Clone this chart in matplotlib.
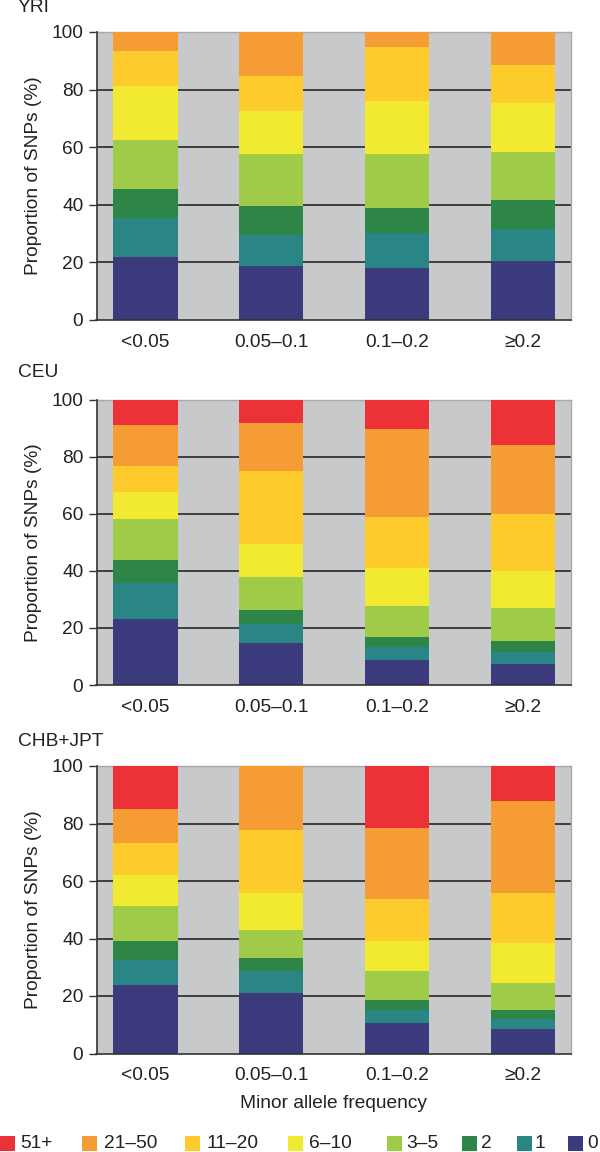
import numpy as np
import matplotlib
matplotlib.use("Agg")
import matplotlib.pyplot as plt
from matplotlib.patches import Rectangle

plt.rcParams['font.family'] = ['Liberation Sans', 'DejaVu Sans']

# Data
populations = ["YRI", "CEU", "CHB+JPT"]
maf_bins = ["<0.05", "0.05\u20130.1", "0.1\u20130.2", "\u22650.2"]
categories = ["0", "1", "2", "3\u20135", "6\u201310", "11\u201320", "21\u201350", "51+"]
colors = ["#3b3a7c", "#2a8585", "#2e8548", "#9fcb48", "#f2ea31", "#fdcb2c", "#f59c34", "#ec3237"]

# cumulative tops (%) of each category, per MAF bin
yri_cum = [
    [22.0, 35.5, 45.6, 62.4, 81.2, 93.4, 100, 100],
    [18.8, 29.5, 39.6, 57.7, 72.6, 84.7, 100, 100],
    [18.1, 30.3, 39.0, 57.7, 75.9, 94.7, 100, 100],
    [20.6, 31.6, 41.5, 58.2, 75.2, 88.7, 100, 100],
]
ceu_cum = [
    [23.0, 35.7, 43.8, 58.1, 67.5, 76.9, 91.1, 100],
    [14.8, 21.5, 26.3, 37.7, 49.3, 74.9, 91.8, 100],
    [8.8, 13.4, 16.9, 27.6, 41.1, 58.8, 89.7, 100],
    [7.4, 11.4, 15.4, 27.0, 39.8, 60.0, 84.2, 100],
]
chb_jpt_cum = [
    [23.8, 32.5, 39.3, 51.2, 62.0, 73.2, 85.2, 100],
    [21.2, 28.6, 33.2, 43.1, 55.8, 77.9, 100, 100],
    [10.5, 15.0, 18.5, 28.6, 39.2, 53.9, 78.6, 100],
    [8.6, 12.0, 15.1, 24.4, 38.5, 55.8, 87.9, 100],
]
all_cum = [yri_cum, ceu_cum, chb_jpt_cum]

fig = plt.figure(figsize=(6, 11.52), dpi=100)

# axes boxes in pixels: (top, bottom)
boxes = [(32, 320), (399.7, 685), (766, 1053.5)]
title_y = [8, 372, 742]
left_px, right_px = 96.5, 571
W, H = 600, 1152
FS = 13.8
TXT = "#222222"

x = np.arange(len(maf_bins))
for p, (top, bot) in enumerate(boxes):
    ax = fig.add_axes([left_px / W, 1 - bot / H, (right_px - left_px) / W, (bot - top) / H])
    ax.set_facecolor("#c8c9cb")
    cum = np.array(all_cum[p])
    seg = np.diff(np.hstack([np.zeros((cum.shape[0], 1)), cum]), axis=1)
    bottom = np.zeros(len(maf_bins))
    for k in range(len(categories)):
        ax.bar(x, seg[:, k], width=0.51, bottom=bottom, color=colors[k], zorder=3, linewidth=0)
        bottom += seg[:, k]
    for gy in [20, 40, 60, 80]:
        ax.axhline(gy, color="#1a1a1a", linewidth=1.1, zorder=1)
    ax.set_xlim(-0.39, 3.385)
    ax.set_ylim(0, 100)
    ax.set_yticks([0, 20, 40, 60, 80, 100])
    ax.set_xticks(x)
    ax.set_xticklabels(maf_bins)
    ax.tick_params(axis="y", length=5.5, width=1, color="#333333", pad=4, labelsize=FS, labelcolor=TXT)
    ax.tick_params(axis="x", length=0, pad=10, labelsize=FS, labelcolor=TXT)
    for s in ["left", "bottom"]:
        ax.spines[s].set_color("#333333")
        ax.spines[s].set_linewidth(1.2)
        ax.spines[s].set_zorder(4)
    for s in ["top", "right"]:
        ax.spines[s].set_color("#a8a9ab")
        ax.spines[s].set_linewidth(1)
    ax.set_ylabel("Proportion of SNPs (%)", fontsize=FS, color=TXT, labelpad=7)
    fig.text(18 / W, 1 - title_y[p] / H, populations[p], fontsize=FS, color=TXT,
             ha="left", va="center")
    if p == 2:
        ax.set_xlabel("Minor allele frequency", fontsize=FS, color=TXT, labelpad=8)

# legend laid out by hand (uneven spacing as in the original)
leg_sq_x = [0, 82, 185, 288, 387, 462, 517, 568]
leg_txt_x = [20, 104, 207, 309, 406, 481, 535, 587]
leg_y = 1143.5
sq = 15
for xs, xt, lab, col in zip(leg_sq_x, leg_txt_x, categories[::-1], colors[::-1]):
    fig.patches.append(Rectangle((xs / W, 1 - (leg_y + sq / 2) / H), sq / W, sq / H,
                                 transform=fig.transFigure, facecolor=col, edgecolor="none"))
    fig.text(xt / W, 1 - leg_y / H, lab, fontsize=FS, color=TXT, ha="left", va="center")

fig.savefig("out.png", dpi=100)
